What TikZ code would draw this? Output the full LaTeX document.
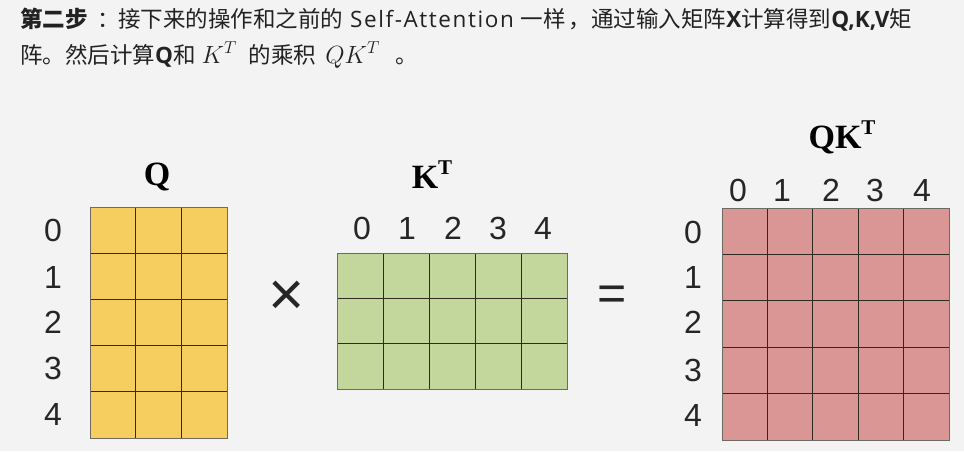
\documentclass[tikz,border=0pt]{standalone}
\usepackage{fontspec}
\setmainfont{Noto Sans CJK SC}
\newfontfamily\digitfont{Liberation Sans}
\newfontfamily\labelfont{Liberation Serif}
\newfontfamily\latinfont[LetterSpace=7]{Open Sans}
\newfontfamily\latinbold{Open Sans}
\usetikzlibrary{calc}
\definecolor{bgcol}{HTML}{F3F3F3}
\definecolor{qcol}{HTML}{F6CE60}
\definecolor{kcol}{HTML}{C3D69B}
\definecolor{scol}{HTML}{D99694}
\definecolor{gridcol}{HTML}{2E2A22}
\definecolor{txtcol}{HTML}{222222}
\tikzset{
  digit/.style={font=\digitfont\fontsize{32}{32}\selectfont, text=black!85, inner sep=0pt, anchor=center},
  mlabel/.style={font=\labelfont\bfseries\fontsize{34}{34}\selectfont, inner sep=0pt, anchor=base},
  head/.style={font=\fontsize{22.5}{26}\selectfont, text=txtcol, inner sep=0pt, anchor=base west},
  opsign/.style={font=\digitfont\fontsize{62}{62}\selectfont, inner sep=0pt, anchor=center, text=black!85},
  gridline/.style={draw=gridcol, line width=0.8pt}
}
\newcommand{\mymatrix}[8]{%
  \fill[#8] (#2,#3) rectangle (#4,#5);
  \coordinate (#1-nw) at (#2,#3);
  \coordinate (#1-se) at (#4,#5);
  \foreach \i in {1,...,\numexpr#6-1\relax}{
    \draw[gridline] ($(#1-nw)!\i/#6!(#4,#3)$) -- ($(#2,#5)!\i/#6!(#1-se)$);
  }
  \foreach \j in {1,...,\numexpr#7-1\relax}{
    \draw[gridline] ($(#1-nw)!\j/#7!(#2,#5)$) -- ($(#4,#3)!\j/#7!(#1-se)$);
  }
  \draw[draw=gridcol!70, line width=0.7pt] (#1-nw) rectangle (#1-se);
}
\newcommand{\supT}{\raisebox{0.40em}{\fontsize{21}{21}\selectfont T}}
\newcommand{\hdmath}[1]{{\fontsize{26}{26}\selectfont$#1$}}
\begin{document}
\begin{tikzpicture}[x=1pt,y=-1pt]
\fill[bgcol] (0,0) rectangle (964,451);
\useasboundingbox (0,0) rectangle (964,451);

% header
\node[head] (h1) at (20,27) {\textbf{第二步}\hspace{10pt}：\hspace{-2pt}接下来的操作和之前的\hspace{7pt}{\latinfont Self-Attention}\hspace{7pt}一样\hspace{3pt}，通过输入矩阵{\latinbold\bfseries X}计算得到{\latinbold\bfseries Q,K,V}矩};
\node[head] (h2) at (20,63) {阵。然后计算{\latinbold\bfseries Q}和\hspace{6pt}\hdmath{K^T}\hspace{12pt}的乘积\hspace{9pt}\hdmath{QK^T}\hspace{16pt}。};

% matrices
\mymatrix{q}{90}{207}{227}{438}{3}{5}{qcol}
\mymatrix{k}{337}{253}{567}{389}{5}{3}{kcol}
\mymatrix{s}{722}{208}{949}{440}{5}{5}{scol}

% labels
\node[mlabel] (lq) at (157,185) {Q};
\node[mlabel] (lk) at (432,188) {K\supT};
\node[mlabel] (ls) at (842,148) {QK\supT};

% Q row labels
\foreach \d/\y in {0/230,1/277,2/322,3/368,4/414}{
  \node[digit] (qr\d) at (53,\y) {\d};
}
% K column labels
\foreach \d/\x in {0/362,1/407,2/453,3/498,4/543}{
  \node[digit] (kc\d) at (\x,228) {\d};
}
% QK column labels
\foreach \d/\x in {0/738,1/782,2/831,3/875,4/922}{
  \node[digit] (sc\d) at (\x,190) {\d};
}
% QK row labels
\foreach \d/\y in {0/232,1/277,2/322,3/370,4/415}{
  \node[digit] (sr\d) at (693,\y) {\d};
}

% operators
\node[opsign] (times) at (287,298) {×};
\node[opsign, font=\digitfont\fontsize{50}{50}\selectfont] (eq) at (612,298) {=};
\end{tikzpicture}
\end{document}
